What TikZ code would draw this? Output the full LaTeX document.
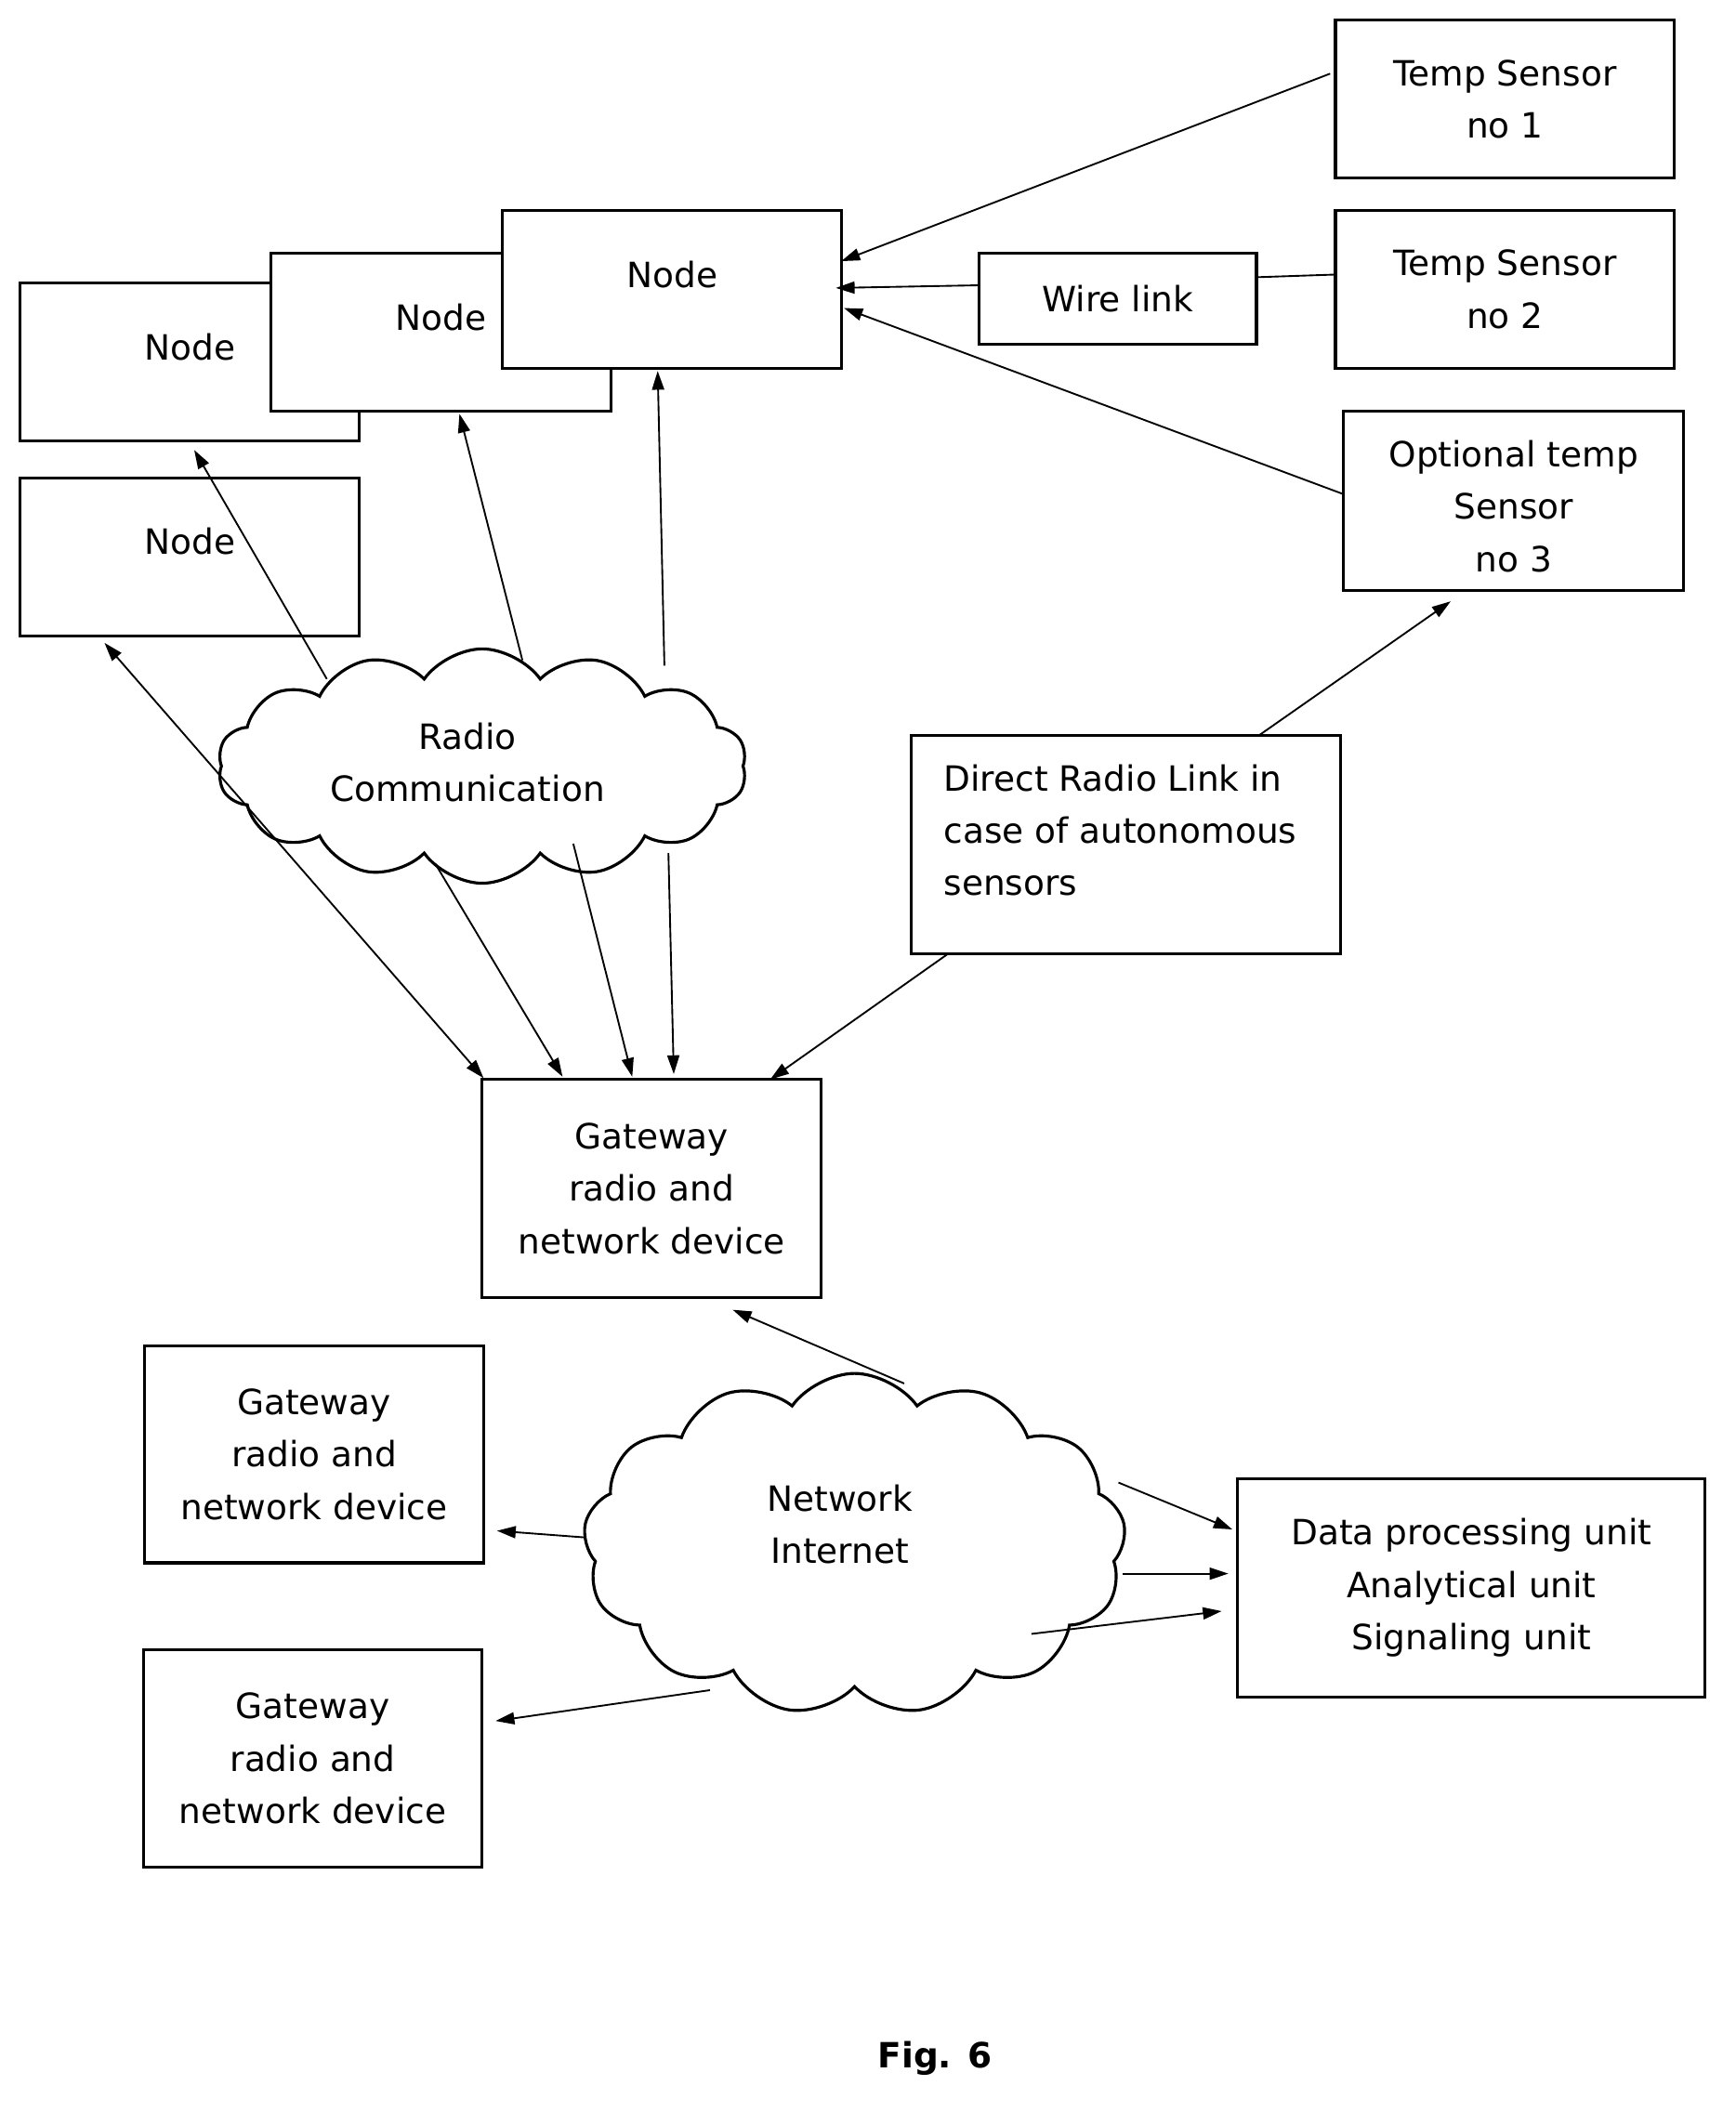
\documentclass[tikz,border=0pt]{standalone}
\usepackage{fontspec}
\setmainfont{DejaVu Sans}
\usetikzlibrary{shapes.symbols,arrows.meta}
\begin{document}
\begin{tikzpicture}[x=1pt,y=-1pt,
  box/.style={draw,line width=2.2pt,fill=white,inner sep=0},
  arr/.style={-{Triangle[length=14pt,width=9pt]},line width=1.3pt},
  lin/.style={line width=1.3pt},
  txt/.style={font=\fontsize{26}{39}\selectfont,align=center}]
\useasboundingbox (0,0) rectangle (1296,1577);
\newcommand{\bx}[5]{\draw[box] (#2,#3) rectangle (#4,#5); \coordinate (#1) at ({(#2+#4)/2},{(#3+#5)/2});}
% boxes
\bx{ts1}{997}{15}{1250}{133}
\node[txt] (t1) at (ts1) {Temp Sensor\\no 1};
\bx{ts2}{997}{157}{1250}{275}
\node[txt] (t2) at (ts2) {Temp Sensor\\no 2};
\bx{ts3}{1003}{307}{1257}{441}
\node[txt] (t3) at (1130,378) {Optional temp\\Sensor\\no 3};
\bx{wl}{731}{189}{938}{257}
\node[txt] (twl) at (wl) {Wire link};
\bx{n1}{15}{211}{268}{329}
\node[txt] (tn1) at (142,259) {Node};
\bx{n2}{202}{189}{456}{307}
\node[txt] (tn2) at (329,237) {Node};
\bx{n3}{375}{157}{628}{275}
\node[txt] (tn3) at (502,205) {Node};
\bx{n4}{15}{357}{268}{475}
\node[txt] (tn4) at (142,404) {Node};
\bx{dr}{680}{549}{1001}{712}
\node[txt,align=left,anchor=west] (tdr) at (701,620) {Direct Radio Link in\\case of autonomous\\sensors};
\bx{gw}{360}{806}{613}{969}
\node[txt] (tgw) at (gw) {Gateway\\radio and\\network device};
\bx{gw2}{108}{1005}{361}{1167}
\node[txt] (tgw2) at (gw2) {Gateway\\radio and\\network device};
\bx{gw3}{107}{1232}{360}{1394}
\node[txt] (tgw3) at (gw3) {Gateway\\radio and\\network device};
\bx{dp}{924}{1104}{1273}{1267}
\node[txt] (tdp) at (dp) {Data processing unit\\Analytical unit\\Signaling unit};
% clouds
\node[cloud,draw,line width=2.2pt,cloud puffs=14,cloud puff arc=110,aspect=2.3,minimum width=395pt,minimum height=175pt,fill=white] (rc) at (360,572) {};
\node[txt] (trc) at (349,569) {Radio\\Communication};
\node[cloud,draw,line width=2.2pt,cloud puffs=13,cloud puff arc=110,aspect=1.6,minimum width=405pt,minimum height=255pt,fill=white] (nc) at (638,1153) {};
\node[txt] (tnc) at (627,1138) {Network\\Internet};
% connectors
\coordinate (a1) at (993,55); \coordinate (b1) at (628,195);
\draw[arr] (a1) -- (b1);
\coordinate (a2) at (731,213); \coordinate (b2) at (624,215);
\draw[arr] (a2) -- (b2);
\draw[lin] (938,207) -- (997,205);
\coordinate (a3) at (1003,369); \coordinate (b3) at (630,230);
\draw[arr] (a3) -- (b3);
\coordinate (a4) at (940,549); \coordinate (b4) at (1083,449);
\draw[arr] (a4) -- (b4);
\coordinate (a5) at (708,712); \coordinate (b5) at (575,806);
\draw[arr] (a5) -- (b5);
\coordinate (c1) at (496,497); \coordinate (d1) at (491,277);
\draw[arr] (c1) -- (d1);
\coordinate (c2) at (390,493); \coordinate (d2) at (343,309);
\draw[arr] (c2) -- (d2);
\coordinate (c3) at (244,507); \coordinate (d3) at (145,336);
\draw[arr] (c3) -- (d3);
\coordinate (c4) at (78,480); \coordinate (d4) at (361,805);
\draw[arr,{Triangle[length=14pt,width=9pt]}-{Triangle[length=14pt,width=9pt]}] (c4) -- (d4);
\coordinate (e1) at (325,645); \coordinate (f1) at (420,804);
\draw[arr] (e1) -- (f1);
\coordinate (e2) at (428,630); \coordinate (f2) at (472,804);
\draw[arr] (e2) -- (f2);
\coordinate (e3) at (499,637); \coordinate (f3) at (503,802);
\draw[arr] (e3) -- (f3);
\coordinate (g1) at (675,1033); \coordinate (h1) at (547,978);
\draw[arr] (g1) -- (h1);
\coordinate (g2) at (437,1148); \coordinate (h2) at (371,1143);
\draw[arr] (g2) -- (h2);
\coordinate (g3) at (530,1262); \coordinate (h3) at (370,1285);
\draw[arr] (g3) -- (h3);
\coordinate (g4) at (835,1107); \coordinate (h4) at (920,1142);
\draw[arr] (g4) -- (h4);
\coordinate (g5) at (838,1175); \coordinate (h5) at (917,1175);
\draw[arr] (g5) -- (h5);
\coordinate (g6) at (770,1220); \coordinate (h6) at (912,1203);
\draw[arr] (g6) -- (h6);
\node[font=\fontsize{26}{30}\selectfont\bfseries] (fig) at (698,1537) {Fig. 6};
\end{tikzpicture}
\end{document}
